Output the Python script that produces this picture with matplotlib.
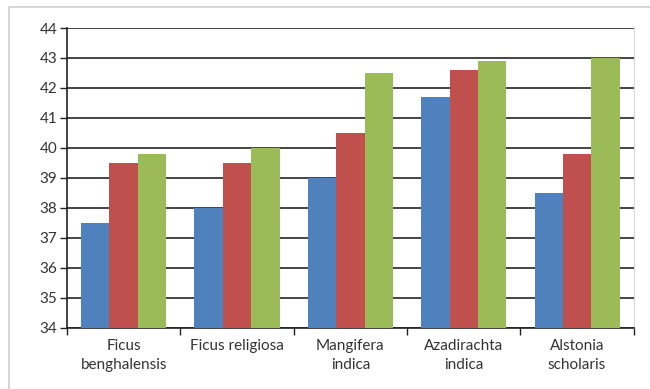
import matplotlib.pyplot as plt
import numpy as np
from matplotlib.patches import Rectangle

categories = ["Ficus\nbenghalensis", "Ficus religiosa", "Mangifera\nindica",
              "Azadirachta\nindica", "Alstonia\nscholaris"]
series_1 = [37.5, 38.0, 39.0, 41.7, 38.5]
series_2 = [39.5, 39.5, 40.5, 42.6, 39.8]
series_3 = [39.8, 40.0, 42.5, 42.9, 43.0]

colors = ["#4F81BD", "#C0504D", "#9BBB59"]

plt.rcParams['font.family'] = ['Lato', 'DejaVu Sans']

fig = plt.figure(figsize=(6.5, 3.89), dpi=100)
ax = fig.add_axes([0.103, 0.157, 0.872, 0.771])

x = np.arange(len(categories))
width = 0.25
for i, vals in enumerate([series_1, series_2, series_3]):
    ax.bar(x + (i - 1) * width, np.array(vals) - 34, width, bottom=34,
           color=colors[i], zorder=3)

ax.set_ylim(34, 44)
ax.set_xlim(-0.5, len(categories) - 0.5)
ax.set_yticks(range(34, 45))
ax.yaxis.grid(True, color="#444444", linewidth=1.4, zorder=0)

ax.set_xticks(x)
ax.set_xticklabels(categories, fontsize=11, color="#333333", linespacing=1.45)
ax.tick_params(axis="x", length=0, pad=8)
ax.set_xticks(np.arange(-0.5, len(categories)), minor=True)
ax.tick_params(axis="x", which="minor", length=5, width=1, color="#222222")
ax.tick_params(axis="y", labelsize=11, labelcolor="#333333", length=5,
               width=1, color="#222222", pad=2)

for s in ["left", "bottom"]:
    ax.spines[s].set_color("#222222")
    ax.spines[s].set_linewidth(1.2)
ax.spines["top"].set_visible(False)
ax.spines["right"].set_color("#d9d9d9")

fig.patches.append(Rectangle((9 / 650, -0.1), 1.2, 1.1 - 7 / 389,
                             transform=fig.transFigure, fill=False,
                             edgecolor="#d0d0d0", linewidth=1.2))

fig.savefig("out.png", dpi=100)
